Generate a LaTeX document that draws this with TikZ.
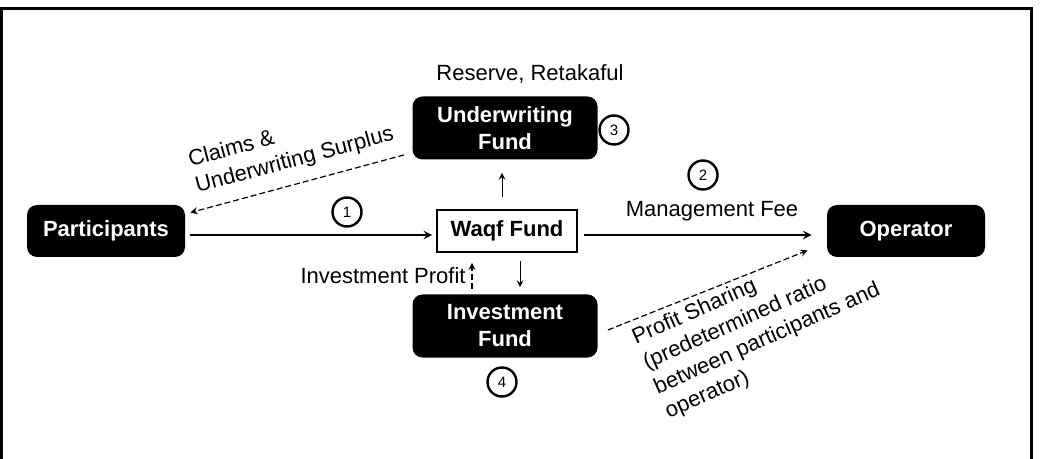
\documentclass[tikz,border=0pt]{standalone}
\usepackage{fontspec}
\setmainfont{Liberation Sans}

\begin{document}
\begin{tikzpicture}[>=stealth, x=0.5pt, y=-0.5pt,
  fund/.style={rectangle, rounded corners=5pt, fill=black, text=white, align=center,
    font=\fontsize{11}{13.5}\selectfont\bfseries, minimum height=26pt},
  num/.style={circle, draw, line width=1.2pt, minimum size=14.5pt, inner sep=0pt,
    font=\fontsize{7.5}{8}\selectfont},
  lbl/.style={font=\fontsize{11}{13.5}\selectfont, inner sep=0pt},
  flow/.style={->, line width=0.9pt},
  thinflow/.style={->, line width=0.5pt},
  share/.style={->, line width=0.6pt, dash pattern=on 3pt off 1.5pt}]
  \useasboundingbox (0,0) rectangle (1048,459);
  % outer frame
  \draw[line width=1.5pt] (1.5,459) -- (1.5,9) -- (1031,9) -- (1031,459);
  % parties and funds
  \node[fund, minimum width=79pt] (part) at (106,231) {Participants};
  \node[fund, minimum width=79pt] (oper) at (906,231) {Operator};
  \node[draw, line width=0.8pt, minimum width=70pt, minimum height=21pt,
    font=\fontsize{11}{13.5}\selectfont\bfseries] (waqf) at (507,231) {Waqf Fund};
  \node[fund, minimum width=92.5pt, minimum height=31.5pt] (uwf) at (505,128) {Underwriting\\Fund};
  \node[fund, minimum width=92.5pt, minimum height=31.5pt] (invf) at (505,326) {Investment\\Fund};
  % step numbers
  \node[num] (n1) at (347,212) {1};
  \node[num] (n2) at (703,175) {2};
  \node[num] (n3) at (614,130) {3};
  \node[num] (n4) at (502,382) {4};
  % contributions and fee
  \draw[flow, shorten <=2.5pt, shorten >=2pt] ([yshift=-2pt]part.east) -- ([yshift=-2pt]waqf.west);
  \draw[flow, shorten <=3pt, shorten >=7.5pt] ([yshift=-2pt]waqf.east) -- ([yshift=-2pt]oper.west);
  \node[lbl] (fee) at (712,211) {Management Fee};
  % split into the two funds
  \draw[thinflow, shorten <=6pt, shorten >=6.5pt] ([xshift=-2.5pt]waqf.north) -- ([xshift=-1.5pt]uwf.south);
  \draw[thinflow, shorten <=4pt, shorten >=3.5pt] ([xshift=6.5pt]waqf.south) -- ([xshift=7.5pt]invf.north);
  \node[lbl] (res) at (530,74) {Reserve, Retakaful};
  % returns (dashed)
  \draw[share, shorten <=2.5pt, shorten >=5pt] ([xshift=-16.5pt]invf.north) -- ([xshift=-17.5pt]waqf.south);
  \node[lbl, anchor=east] (prof) at (466,276) {Investment Profit};
  \draw[share] ([xshift=-4pt,yshift=2.5pt]uwf.south west) -- ([xshift=2.5pt,yshift=-4pt]part.north east);
  \node[lbl, rotate=15, anchor=north west, align=left] (claims) at (186,151) {Claims \&\\Underwriting Surplus};
  \draw[share] ([xshift=5pt,yshift=-2pt]invf.east) -- ([xshift=-9.5pt,yshift=3.5pt]oper.south west);
  \node[lbl, rotate=24, anchor=north west, align=left] (ps) at (629,330)
    {Profit Sharing\\(predetermined ratio\\between participants and\\operator)};
\end{tikzpicture}
\end{document}
